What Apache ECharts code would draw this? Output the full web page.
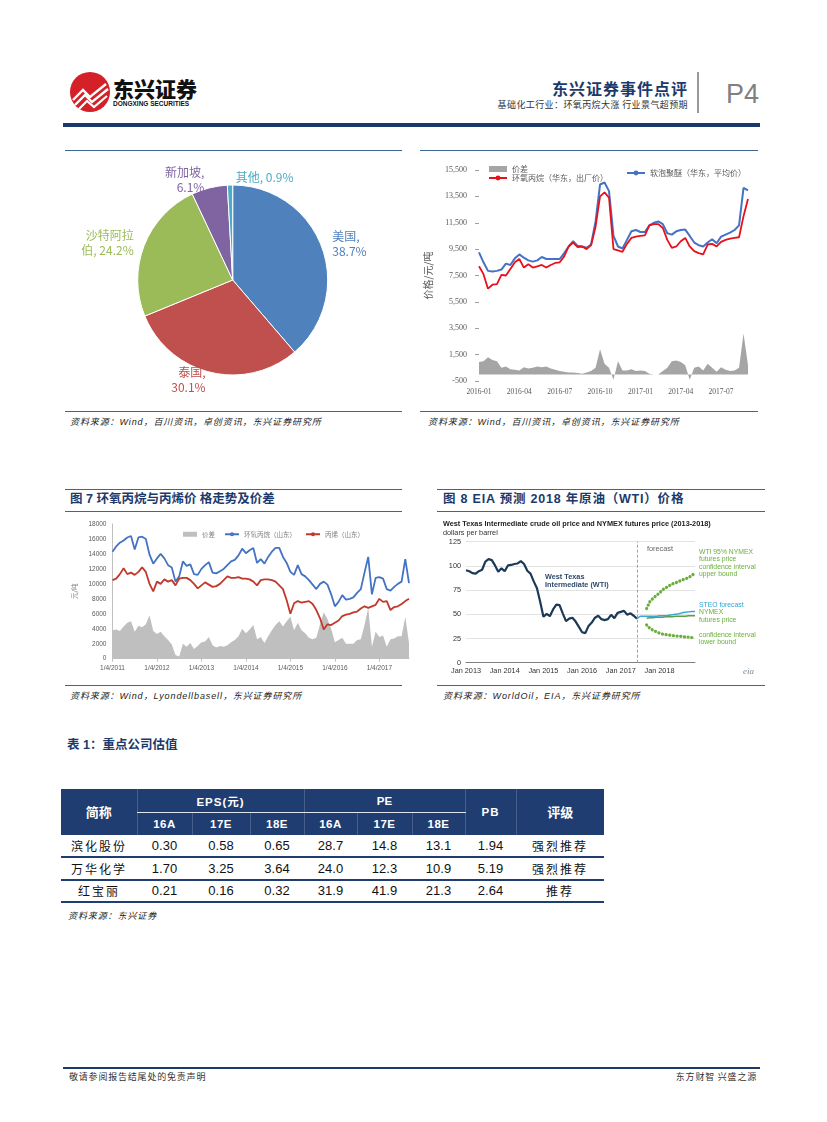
<!DOCTYPE html>
<html><head><meta charset="utf-8">
<script src="https://cdn.jsdelivr.net/npm/echarts@6/dist/echarts.min.js"></script>
<style>
body{margin:0;background:#fff;}
#page{position:relative;width:827px;height:1122px;overflow:hidden;background:#fff;font-family:'Liberation Sans','Noto Sans CJK SC',sans-serif;}
.abs{position:absolute;white-space:nowrap;line-height:1;}
.rule{position:absolute;height:0;border-top:1.5px solid #3D6791;}
.src{position:absolute;font-size:9px;line-height:1;font-style:italic;color:#222;letter-spacing:0.9px;white-space:nowrap;font-family:'Liberation Sans','Noto Sans CJK SC',sans-serif;}
.ftitle{position:absolute;font-size:12.5px;line-height:1;font-weight:bold;color:#1B3A6B;white-space:nowrap;font-family:'Liberation Sans','Noto Sans CJK SC',sans-serif;}
.chart{position:absolute;}
#tbl{position:absolute;left:61px;top:789px;border-collapse:collapse;table-layout:fixed;font-family:'Liberation Sans','Noto Sans CJK SC',sans-serif;}
#tbl th{background:#1F3D70;color:#fff;font-weight:bold;padding:0;text-align:center;border-left:1px solid rgba(255,255,255,0.18);}
#tbl td{padding:0;text-align:center;font-size:13px;color:#111;border-bottom:2px solid #1F3D70;height:20px;}
#tbl td.cn{font-size:12px;letter-spacing:2px;font-family:'Noto Sans CJK SC',sans-serif;}
</style></head>
<body><div id="page">

<!-- header -->
<svg class="abs" style="left:68px;top:70px" width="44" height="44" viewBox="0 0 44 44">
  <circle cx="22" cy="22" r="20" fill="#D42027"/>
  <polyline points="5,30 15,20 22,27 38,14" fill="none" stroke="#fff" stroke-width="2.4"/>
  <polyline points="7,35 17,25 24,32 40,19" fill="none" stroke="#fff" stroke-width="2.4"/>
  <polyline points="11,39 19,31 26,37 39,26" fill="none" stroke="#fff" stroke-width="2.2"/>
</svg>
<div class="abs" style="left:113px;top:78px;font-size:21px;font-weight:900;color:#111;font-family:'Noto Sans CJK SC'">东兴证券</div>
<div class="abs" style="left:113px;top:101px;font-size:6.5px;font-weight:bold;color:#111;">DONGXING SECURITIES</div>
<div class="abs" style="right:139px;top:80px;font-size:16px;font-weight:bold;color:#1B3A6B;letter-spacing:1px;font-family:'Noto Sans CJK SC'">东兴证券事件点评</div>
<div class="abs" style="right:139px;top:100px;font-size:9px;color:#333;letter-spacing:0.4px;font-family:'Noto Sans CJK SC'">基础化工行业：环氧丙烷大涨 行业景气超预期</div>
<div class="abs" style="left:697px;top:72px;width:1.5px;height:41px;background:#999"></div>
<div class="abs" style="left:726px;top:81px;font-size:27px;color:#808080;">P4</div>
<div class="abs" style="left:63px;top:123px;width:697px;height:3.5px;background:#1B3A6B"></div>

<!-- top panels -->
<div class="rule" style="left:65px;top:150px;width:337px"></div>
<div class="rule" style="left:65px;top:411px;width:337px"></div>
<div class="src" style="left:70px;top:418px">资料来源：Wind，百川资讯，卓创资讯，东兴证券研究所</div>
<div class="rule" style="left:420px;top:150px;width:338px"></div>
<div class="rule" style="left:420px;top:411px;width:338px"></div>
<div class="src" style="left:428px;top:418px">资料来源：Wind，百川资讯，卓创资讯，东兴证券研究所</div>
<div id="c1" class="chart" style="left:63px;top:152px;width:340px;height:258px"></div>
<div id="c2" class="chart" style="left:415px;top:152px;width:345px;height:258px"></div>

<!-- figure panels -->
<div class="rule" style="left:65px;top:489px;width:337px"></div>
<div class="ftitle" style="left:70px;top:493px">图 7 环氧丙烷与丙烯价 格走势及价差</div>
<div class="rule" style="left:65px;top:511px;width:337px"></div>
<div class="rule" style="left:65px;top:685px;width:337px"></div>
<div class="src" style="left:70px;top:692px">资料来源：Wind，Lyondellbasell，东兴证券研究所</div>
<div class="rule" style="left:437px;top:489px;width:328px"></div>
<div class="ftitle" style="left:443px;top:493px;letter-spacing:0.8px">图 8 EIA 预测 2018 年原油（WTI）价格</div>
<div class="rule" style="left:437px;top:511px;width:328px"></div>
<div class="rule" style="left:437px;top:685px;width:328px"></div>
<div class="src" style="left:443px;top:692px">资料来源：WorldOil，EIA，东兴证券研究所</div>
<div id="c3" class="chart" style="left:63px;top:512px;width:355px;height:172px"></div>
<div id="c4" class="chart" style="left:435px;top:512px;width:330px;height:172px"></div>

<!-- table -->
<div class="ftitle" style="left:67px;top:739px">表 1：重点公司估值</div>
<table id="tbl"></table>
<div class="src" style="left:68px;top:912px">资料来源：东兴证券</div>

<!-- footer -->
<div class="abs" style="left:63px;top:1067px;width:697px;height:1.5px;background:#1B3A6B"></div>
<div class="abs" style="left:69px;top:1072px;font-size:9px;color:#333;letter-spacing:0.8px;font-family:'Noto Sans CJK SC'">敬请参阅报告结尾处的免责声明</div>
<div class="abs" style="right:70px;top:1072px;font-size:9px;color:#333;letter-spacing:0.8px;font-family:'Noto Sans CJK SC'">东方财智 兴盛之源</div>
</div>

<script>
// ---------- DATA ----------
// Pie: import share by country
const pieNames = ['美国', '泰国', '沙特阿拉伯', '新加坡', '其他'];
const pieValues = [38.7, 30.1, 24.2, 6.1, 0.9];

// Top-right chart (2016-01 .. 2017-09, ~3 points per month)
const ticks2 = ['2016-01', '2016-04', '2016-07', '2016-10', '2017-01', '2017-04', '2017-07'];
const polyether2 = [9250,8500,7850,7800,7850,7950,8400,8300,8800,9100,
  8850,8650,8550,8650,8900,8750,8750,8750,8750,9200,
  9700,10100,9750,9700,9600,9850,11600,14400,14550,13900,
  10500,9700,9550,10200,10850,10950,10800,10800,11300,11500,
  11600,11400,10700,10600,10850,10950,10980,10500,10000,9800,
  9700,10000,10250,9950,10450,10600,10750,10950,11300,14150,13950];
const po2 = [8200,7600,6500,6800,6850,7550,7500,8000,8500,8750,
  8100,8350,8100,8200,8300,8100,8300,8450,8500,8950,
  9700,10000,9650,9700,9500,9800,11200,13500,13800,13400,
  9500,9400,9300,9900,10350,10450,10500,10550,11300,11400,
  11400,11100,10200,9600,9700,10100,10350,9700,9350,9200,
  9100,9850,9900,9700,10050,10200,10300,10350,10400,12000,13300];
const spread2 = [950,1000,1300,1100,1000,500,600,400,350,300,
  550,450,500,600,550,600,450,350,250,200,
  150,150,100,50,150,250,500,1900,800,500,
  -400,1000,300,300,400,250,300,250,50,0,
  0,250,500,1000,1050,950,700,-400,500,600,
  300,800,500,200,550,350,250,300,500,3100,700];

// Figure 7 (monthly 2011-01 .. 2017-09)
const ticks7 = ['1/4/2011', '1/4/2012', '1/4/2013', '1/4/2014', '1/4/2015', '1/4/2016', '1/4/2017'];
const po7 = [14300,15000,15500,15800,16200,16400,14600,16200,16300,16000,
  13900,12700,13400,14000,13400,12500,12200,10300,11000,13000,
  12400,12600,11300,11200,12000,12500,12900,11500,11400,11700,
  12000,12500,13000,13200,13800,14700,14100,14500,14800,12800,
  13300,12700,13600,14300,14800,14800,13600,12800,11600,11200,
  12500,11300,11000,10500,9900,9300,10000,10300,9900,8600,
  7000,7600,8500,7900,8000,8200,8800,9300,11500,13600,
  8600,10800,10900,10700,9300,9100,9600,10000,10300,13300,10100];
const propylene7 = [10500,10700,11300,12100,11300,11500,11200,11600,12200,11600,
  10000,9000,10300,10000,10600,10300,10500,9800,10700,10800,
  10800,10500,10000,9400,9800,10200,9900,9600,9700,10000,
  10500,11000,10800,10800,10900,10700,10700,10600,10300,9800,
  10500,10600,10600,10500,10300,9800,9300,7800,6000,7400,
  7700,7500,7600,7700,7300,6500,5400,3900,4600,4500,
  4800,5100,5700,5900,6000,6200,6300,6700,7000,6800,
  7000,7200,8000,7600,7700,6500,6900,7000,7300,7700,8000];
const spread7 = [3800,3900,3700,4300,4800,5000,3600,4400,4200,4600,
  5800,3700,3300,3600,3000,2500,1900,500,300,2000,
  1600,2100,1300,1700,2200,2300,2900,1800,1500,1700,
  1600,1800,2200,2500,3000,4000,3400,3900,4500,2600,
  2900,2100,3000,3800,4500,5000,4300,5000,5600,3800,
  4800,3800,3400,2800,2600,2800,4600,6200,5300,4000,
  2200,2500,2800,2000,2000,2000,2500,2600,4500,6800,
  1600,3600,2900,3100,1600,2600,2700,3000,3000,5600,2100];

// Figure 8 (monthly Jan 2013 .. Dec 2018)
const ticks8 = ['Jan 2013', 'Jan 2014', 'Jan 2015', 'Jan 2016', 'Jan 2017', 'Jan 2018'];
const wti8 = [95.5,94.5,92.5,92,94.5,96,104.5,107,106,100.5,
  94,97.5,94.5,100.5,101,102,102.5,105,102,95,
  92,84,77,63,47.5,50.5,48,55,60,59.5,
  51,43,45.5,46.5,42.5,37,31.5,30.5,38,41.5,
  46.5,48.5,45,44,45,49.5,46,51.5,52.5,53.5,
  49.5,51,48.5,45.5];                       // Jan 2013 .. Jun 2017
const steo8 = [45.5,48,48,48,48,48,48,48.5,48.5,48.5,49,49.5,50,50.5,51.5,52,52.5,53,53]; // Jun 2017 ..
const nymex8 = [46,46.5,46.5,47,47,47,47.5,47.5,47.5,48,48,48,48,48.5,48.5,48.5];        // Sep 2017 ..
const upper8 = [56,63,66.5,69.5,72,75.5,77.5,79.5,81.5,82.5,84,85.5,86.5,88,90,93];      // Sep 2017 ..
const lower8 = [39,35.5,33.5,32,30.5,29.5,29,28.5,28,27.5,27.5,27,26.5,26.5,26,26];      // Sep 2017 ..
const forecastStartIndex = 53;

// Table 1
const tblNames = ['滨化股份', '万华化学', '红宝丽'];
const eps16A = [0.30, 1.70, 0.21];
const eps17E = [0.58, 3.25, 0.16];
const eps18E = [0.65, 3.64, 0.32];
const pe16A = [28.7, 24.0, 31.9];
const pe17E = [14.8, 12.3, 41.9];
const pe18E = [13.1, 10.9, 21.3];
const pbVals = [1.94, 5.19, 2.64];
const ratings = ['强烈推荐', '强烈推荐', '推荐'];
const subHeaders = ['16A', '17E', '18E', '16A', '17E', '18E'];

// ---------- helpers ----------
const pad = (n) => String(n).padStart(2, '0');
function monthCats(y0, m0, count, perMonth, fmt) {
  const out = [];
  for (let i = 0; i < count; i++) {
    const mi = Math.floor(i / perMonth) + (m0 - 1);
    const y = y0 + Math.floor(mi / 12), m = mi % 12 + 1;
    out.push(fmt(y, m, i % perMonth));
  }
  return out;
}
const MN = ['Jan','Feb','Mar','Apr','May','Jun','Jul','Aug','Sep','Oct','Nov','Dec'];
const cats2 = monthCats(2016, 1, polyether2.length, 3, (y, m, k) => y + '-' + pad(m) + '-' + ['05','15','25'][k]);
const cats7 = monthCats(2011, 1, po7.length, 1, (y, m) => y + '-' + pad(m));
const cats8 = monthCats(2013, 1, 72, 1, (y, m) => MN[m - 1] + ' ' + y);
function placeAt(start, arr, len) {
  const out = new Array(len).fill(null);
  arr.forEach((v, i) => { out[start + i] = v; });
  return out;
}

const CJK = "'Liberation Sans','Noto Sans CJK SC',sans-serif";

// ---------- Chart 1: pie ----------
const pal = ['#4F81BD', '#C0504D', '#9BBB59', '#8064A2', '#4BACC6'];
const c1 = echarts.init(document.getElementById('c1'));
c1.setOption({
  animation: false,
  textStyle: { fontFamily: CJK },
  series: [{
    type: 'pie',
    center: [169.7, 128],
    radius: 95,
    startAngle: 90,
    clockwise: true,
    avoidLabelOverlap: false,
    itemStyle: { borderColor: '#fff', borderWidth: 1 },
    label: {
      show: true, position: 'outside', fontSize: 12, lineHeight: 15,
      fontFamily: "'Noto Sans CJK SC','Liberation Sans',sans-serif",
      distanceToLabelLine: 3,
      formatter: (p) => {
        const v = p.value.toFixed(1) + '%';
        if (p.name === '沙特阿拉伯') return '沙特阿拉\n伯, ' + v;
        if (p.dataIndex === pieNames.length - 1) return p.name + ', ' + v;
        return p.name + ',\n' + v;
      }
    },
    labelLine: { show: false, length: 8, length2: 0 },
    labelLayout: (params) => {
      if (params.dataIndex === pieNames.length - 1) {
        return { x: params.labelRect.x + params.labelRect.width + 9, align: 'left' };
      }
    },
    emphasis: { disabled: true },
    data: pieNames.map((n, i) => ({ name: n, value: pieValues[i], itemStyle: { color: pal[i] }, label: { color: pal[i] } }))
  }]
});

// ---------- Chart 2: polyether vs PO ----------
const c2 = echarts.init(document.getElementById('c2'));
c2.setOption({
  animation: false,
  textStyle: { fontFamily: CJK },
  grid: { left: 62, right: 12, top: 18, bottom: 29 },
  legend: [
    { data: [{ name: '价差', icon: 'rect' }, { name: '环氧丙烷（华东，出厂价）' }],
      orient: 'vertical', left: 68, top: 8, itemWidth: 18, itemHeight: 6, itemGap: 1,
      textStyle: { fontSize: 8, color: '#595959', fontFamily: "'Noto Sans CJK SC'" } },
    { data: [{ name: '软泡聚醚（华东，平均价）' }],
      left: 206, top: 12, itemWidth: 18, itemHeight: 6,
      textStyle: { fontSize: 8, color: '#595959', fontFamily: "'Noto Sans CJK SC'" } }
  ],
  xAxis: {
    type: 'category', data: cats2, boundaryGap: false,
    axisLine: { show: false, onZero: false }, axisTick: { show: false },
    axisLabel: { interval: (i) => i % 9 === 0, formatter: (v, i) => ticks2[i / 9], fontSize: 7.5, color: '#595959', margin: 7, fontFamily: "'Liberation Serif',serif" }
  },
  yAxis: {
    type: 'value', min: -500, max: 15500, interval: 2000,
    name: '价格/元/吨', nameLocation: 'middle', nameGap: 46,
    nameTextStyle: { fontSize: 10, color: '#595959', fontFamily: "'Noto Sans CJK SC'" },
    axisLine: { show: false }, splitLine: { show: false },
    axisTick: { show: true, length: 4, lineStyle: { color: '#A0A0A0' } },
    axisLabel: { formatter: (v) => v.toLocaleString('en-US'), fontSize: 8, color: '#595959', margin: 12, fontFamily: "'Liberation Serif',serif" }
  },
  series: [
    { name: '价差', type: 'line', data: spread2, symbol: 'none', lineStyle: { width: 0 },
      itemStyle: { color: '#A5A5A5' }, areaStyle: { color: '#A5A5A5', opacity: 1 } },
    { name: '软泡聚醚（华东，平均价）', type: 'line', data: polyether2, symbol: 'none',
      itemStyle: { color: '#4472C4' }, lineStyle: { color: '#4472C4', width: 2 } },
    { name: '环氧丙烷（华东，出厂价）', type: 'line', data: po2, symbol: 'none',
      itemStyle: { color: '#E8111B' }, lineStyle: { color: '#E8111B', width: 1.8 } }
  ]
});

// ---------- Chart 3: Figure 7 ----------
const c3 = echarts.init(document.getElementById('c3'));
c3.setOption({
  animation: false,
  textStyle: { fontFamily: CJK },
  grid: { left: 42, right: 9, top: 12, bottom: 25.3 },
  legend: {
    data: [{ name: '价差', icon: 'rect' }, { name: '环氧丙烷（山东）' }, { name: '丙烯（山东）' }],
    left: 115, top: 14, itemWidth: 14, itemHeight: 5, itemGap: 9,
    textStyle: { fontSize: 6.5, color: '#7F7F7F', fontFamily: "'Noto Sans CJK SC'" }
  },
  xAxis: {
    type: 'category', data: cats7, boundaryGap: false,
    axisLine: { lineStyle: { color: '#BFBFBF' } },
    axisTick: { show: true, interval: (i) => i % 12 === 0, length: 3, lineStyle: { color: '#BFBFBF' } },
    axisLabel: { interval: (i) => i % 12 === 0, formatter: (v, i) => ticks7[i / 12], fontSize: 6.5, color: '#595959', margin: 6 }
  },
  yAxis: {
    type: 'value', min: 0, max: 18000, interval: 2000,
    name: '元/吨', nameLocation: 'middle', nameGap: 30,
    nameTextStyle: { fontSize: 6.5, color: '#7F7F7F', fontFamily: "'Noto Sans CJK SC'" },
    axisLine: { show: true, lineStyle: { color: '#BFBFBF' } }, axisTick: { show: false },
    splitLine: { show: false },
    axisLabel: { formatter: (v) => String(v), fontSize: 6.5, color: '#595959', margin: 6 }
  },
  series: [
    { name: '价差', type: 'line', data: spread7, symbol: 'none', lineStyle: { width: 0 },
      itemStyle: { color: '#BFBFBF' }, areaStyle: { color: '#BFBFBF', opacity: 1 } },
    { name: '环氧丙烷（山东）', type: 'line', data: po7, symbol: 'none',
      itemStyle: { color: '#4472C4' }, lineStyle: { color: '#4472C4', width: 1.8 } },
    { name: '丙烯（山东）', type: 'line', data: propylene7, symbol: 'none',
      itemStyle: { color: '#C0392B' }, lineStyle: { color: '#C0392B', width: 1.8 } }
  ]
});

// ---------- Chart 4: Figure 8 (EIA WTI) ----------
const green = '#6AAE3B';
const c4 = echarts.init(document.getElementById('c4'));
c4.setOption({
  animation: false,
  textStyle: { fontFamily: "'Liberation Sans',sans-serif" },
  title: {
    text: 'West Texas Intermediate crude oil price and NYMEX futures price (2013-2018)',
    subtext: 'dollars per barrel', left: 8, top: 8, itemGap: 2, padding: 0,
    textStyle: { fontSize: 7.3, fontWeight: 'bold', color: '#222' },
    subtextStyle: { fontSize: 7.3, color: '#333' }
  },
  grid: { left: 31, right: 70, top: 29.7, bottom: 21.3 },
  xAxis: {
    type: 'category', data: cats8, boundaryGap: false,
    axisLine: { lineStyle: { color: '#808080', width: 1 } }, axisTick: { show: false },
    axisLabel: { interval: (i) => i % 12 === 0, formatter: (v, i) => ticks8[i / 12], fontSize: 7.3, color: '#333', margin: 5 }
  },
  yAxis: {
    type: 'value', min: 0, max: 125, interval: 25,
    axisLine: { show: false }, axisTick: { show: false },
    splitLine: { lineStyle: { color: '#DCDCDC', width: 0.8 } },
    axisLabel: { fontSize: 7.3, color: '#333', margin: 5 }
  },
  series: [
    { name: 'WTI', type: 'line', data: placeAt(0, wti8, 72), symbol: 'none', connectNulls: false,
      lineStyle: { color: '#1C3A57', width: 2.2 },
      markLine: { silent: true, symbol: 'none', label: { show: false },
        lineStyle: { type: [3, 2], color: '#A0A0A0', width: 1 },
        data: [{ xAxis: cats8[forecastStartIndex] }] } },
    { name: 'NYMEX', type: 'line', data: placeAt(56, nymex8, 72), symbol: 'none',
      lineStyle: { color: '#5E9E44', width: 1.5 } },
    { name: 'STEO', type: 'line', data: placeAt(forecastStartIndex, steo8, 72), symbol: 'none',
      lineStyle: { color: '#3AA6D6', width: 1.5 } },
    { name: 'upper', type: 'line', data: placeAt(56, upper8, 72), symbol: 'none',
      lineStyle: { color: green, width: 3.2, type: [0.1, 3.6], cap: 'round' } },
    { name: 'lower', type: 'line', data: placeAt(56, lower8, 72), symbol: 'none',
      lineStyle: { color: green, width: 3.2, type: [0.1, 3.6], cap: 'round' } }
  ],
  graphic: [
    { type: 'text', left: 212, top: 33, style: { text: 'forecast', fontSize: 7.3, fill: '#666', fontFamily: 'Liberation Sans' } },
    { type: 'text', left: 110, top: 61, style: { text: 'West Texas\nIntermediate (WTI)', fontSize: 7.3, lineHeight: 8, fontWeight: 'bold', fill: '#2E4A6A', fontFamily: 'Liberation Sans' } },
    { type: 'text', left: 264, top: 36, style: { text: 'WTI 95% NYMEX\nfutures price\nconfidence interval\nupper bound', fontSize: 6.8, lineHeight: 7.6, fill: green, fontFamily: 'Liberation Sans' } },
    { type: 'text', left: 264, top: 89, style: { text: 'STEO forecast', fontSize: 6.8, lineHeight: 7.6, fill: '#2EA3D5', fontFamily: 'Liberation Sans' } },
    { type: 'text', left: 264, top: 96.8, style: { text: 'NYMEX\nfutures price', fontSize: 6.8, lineHeight: 7.6, fill: green, fontFamily: 'Liberation Sans' } },
    { type: 'text', left: 264, top: 119, style: { text: 'confidence interval\nlower bound', fontSize: 6.8, lineHeight: 7.6, fill: green, fontFamily: 'Liberation Sans' } },
    { type: 'text', left: 308, top: 155, style: { text: 'eia', fontSize: 9, fontStyle: 'italic', fill: '#7A8A99', fontFamily: 'Liberation Serif' } }
  ]
});

// ---------- Table ----------
(function buildTable() {
  const widths = [76, 55, 58, 54, 53, 55, 53, 51, 88];
  const t = document.getElementById('tbl');
  let h = '<colgroup>' + widths.map(w => '<col style="width:' + w + 'px">').join('') + '</colgroup>';
  h += '<tr style="height:23.7px">' +
    '<th rowspan="2" style="font-size:13px;border-left:none;font-family:\'Noto Sans CJK SC\'">简称</th>' +
    '<th colspan="3" style="font-size:11.5px;border-bottom:1.5px solid #E0E6F0;letter-spacing:1px">EPS(元)</th>' +
    '<th colspan="3" style="font-size:11.5px;border-bottom:1.5px solid #E0E6F0">PE</th>' +
    '<th rowspan="2" style="font-size:11.5px;letter-spacing:1px">PB</th>' +
    '<th rowspan="2" style="font-size:13px;font-family:\'Noto Sans CJK SC\'">评级</th></tr>';
  h += '<tr style="height:22.3px">' + subHeaders.map(s => '<th style="font-size:11.5px;letter-spacing:0.5px">' + s + '</th>').join('') + '</tr>';
  for (let i = 0; i < tblNames.length; i++) {
    h += '<tr style="height:22.3px">' +
      '<td class="cn">' + tblNames[i] + '</td>' +
      '<td>' + eps16A[i].toFixed(2) + '</td>' +
      '<td>' + eps17E[i].toFixed(2) + '</td>' +
      '<td>' + eps18E[i].toFixed(2) + '</td>' +
      '<td>' + pe16A[i].toFixed(1) + '</td>' +
      '<td>' + pe17E[i].toFixed(1) + '</td>' +
      '<td>' + pe18E[i].toFixed(1) + '</td>' +
      '<td>' + pbVals[i].toFixed(2) + '</td>' +
      '<td class="cn">' + ratings[i] + '</td></tr>';
  }
  t.innerHTML = h;
})();
</script>
</body></html>
